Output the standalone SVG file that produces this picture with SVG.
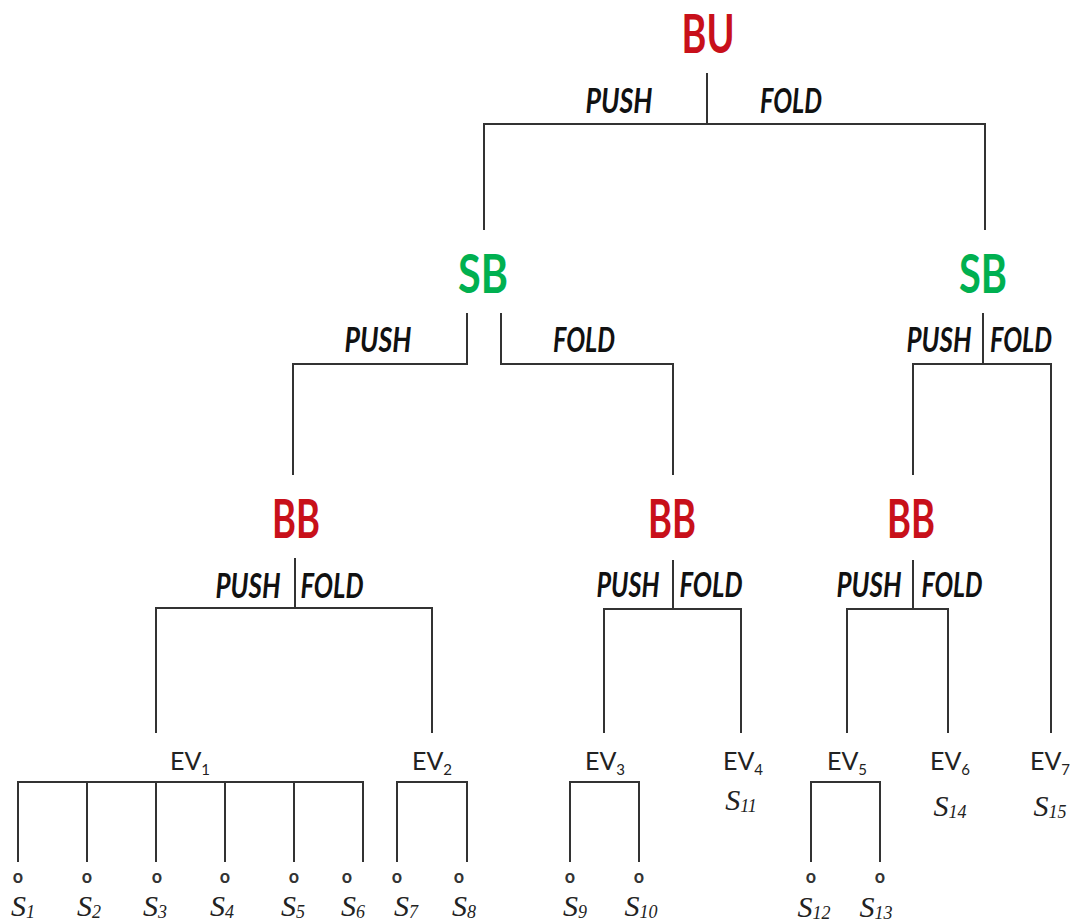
<svg xmlns="http://www.w3.org/2000/svg" width="1074" height="924" viewBox="0 0 1074 924">
<style>
.bg{fill:#fff}
.ln{stroke:#333;stroke-width:2;fill:none}
.bu{font-family:Lato,"Liberation Sans",sans-serif;font-weight:bold;font-size:54px;text-anchor:middle}
.red{fill:#c8101a}
.grn{fill:#00b050}
.act{font-family:Lato,"Liberation Sans",sans-serif;font-weight:bold;font-style:italic;font-size:34px;fill:#111;text-anchor:middle}
.ev{font-family:Lato,"Liberation Sans",sans-serif;font-size:25px;fill:#222;text-anchor:middle}
.sub{font-size:15px}
.s{font-family:"Liberation Serif",serif;font-style:italic;font-size:30px;fill:#222;text-anchor:middle}
.ss{font-size:18px}
.o{font-family:Lato,"Liberation Sans",sans-serif;font-weight:bold;font-size:18px;fill:#333;text-anchor:middle}
</style>
<rect class="bg" x="0" y="0" width="1074" height="924"/>
<g id="connectors">
<path class="ln" d="M707 73V124M484 230V124H985V230"/>
<path class="ln" d="M467 313V364H293V475M501 313V364H673V475"/>
<path class="ln" d="M983 313V364M913 475V364H1051V733"/>
<path class="ln" d="M295 558V608M156 733V608H432V733"/>
<path class="ln" d="M673 560V609M604 733V609H741V733"/>
<path class="ln" d="M913 560V609M847 733V609H948V733"/>
<path class="ln" d="M18 862V782H363V862M87 782V862M156 782V862M225 782V862M294 782V862"/>
<path class="ln" d="M397 862V782H467V862"/>
<path class="ln" d="M570 862V782H639V862"/>
<path class="ln" d="M811 862V782H880V862"/>
</g>
<g id="bu"><text class="bu red" x="708" y="53" textLength="53" lengthAdjust="spacingAndGlyphs">BU</text>
<text class="act" x="619" y="113" textLength="67" lengthAdjust="spacingAndGlyphs">PUSH</text>
<text class="act" x="791" y="113" textLength="62" lengthAdjust="spacingAndGlyphs">FOLD</text></g>
<g id="sb1"><text class="bu grn" x="483" y="293" textLength="50" lengthAdjust="spacingAndGlyphs">SB</text>
<text class="act" x="378" y="352" textLength="67" lengthAdjust="spacingAndGlyphs">PUSH</text>
<text class="act" x="584" y="352" textLength="62" lengthAdjust="spacingAndGlyphs">FOLD</text></g>
<g id="sb2"><text class="bu grn" x="983" y="293" textLength="48" lengthAdjust="spacingAndGlyphs">SB</text>
<text class="act" x="939" y="352" textLength="65" lengthAdjust="spacingAndGlyphs">PUSH</text>
<text class="act" x="1021" y="352" textLength="62" lengthAdjust="spacingAndGlyphs">FOLD</text></g>
<g id="bb1"><text class="bu red" x="296" y="538" textLength="48" lengthAdjust="spacingAndGlyphs">BB</text>
<text class="act" x="248" y="598" textLength="65" lengthAdjust="spacingAndGlyphs">PUSH</text>
<text class="act" x="332" y="598" textLength="63" lengthAdjust="spacingAndGlyphs">FOLD</text></g>
<g id="bb2"><text class="bu red" x="672" y="538" textLength="48" lengthAdjust="spacingAndGlyphs">BB</text>
<text class="act" x="628" y="597" textLength="63" lengthAdjust="spacingAndGlyphs">PUSH</text>
<text class="act" x="711" y="597" textLength="63" lengthAdjust="spacingAndGlyphs">FOLD</text></g>
<g id="bb3"><text class="bu red" x="911" y="538" textLength="48" lengthAdjust="spacingAndGlyphs">BB</text>
<text class="act" x="869" y="597" textLength="65" lengthAdjust="spacingAndGlyphs">PUSH</text>
<text class="act" x="952" y="597" textLength="61" lengthAdjust="spacingAndGlyphs">FOLD</text></g>
<g id="ev1"><text class="ev" x="190" y="770">EV<tspan class="sub" dy="5">1</tspan></text></g>
<g id="ev2"><text class="ev" x="432" y="770">EV<tspan class="sub" dy="5">2</tspan></text></g>
<g id="ev3"><text class="ev" x="605" y="770">EV<tspan class="sub" dy="5">3</tspan></text></g>
<g id="ev4"><text class="ev" x="743" y="770">EV<tspan class="sub" dy="5">4</tspan></text>
<text class="s" x="741" y="810">S<tspan class="ss" dy="2">11</tspan></text></g>
<g id="ev5"><text class="ev" x="847" y="770">EV<tspan class="sub" dy="5">5</tspan></text></g>
<g id="ev6"><text class="ev" x="950" y="770">EV<tspan class="sub" dy="5">6</tspan></text>
<text class="s" x="950" y="816">S<tspan class="ss" dy="2">14</tspan></text></g>
<g id="ev7"><text class="ev" x="1050" y="770">EV<tspan class="sub" dy="5">7</tspan></text>
<text class="s" x="1050" y="816">S<tspan class="ss" dy="2">15</tspan></text></g>
<g id="leaves">
<text class="o" x="18" y="883">o</text>
<text class="o" x="87" y="883">o</text>
<text class="o" x="157" y="883">o</text>
<text class="o" x="225" y="883">o</text>
<text class="o" x="294" y="883">o</text>
<text class="o" x="347" y="883">o</text>
<text class="o" x="397" y="883">o</text>
<text class="o" x="459" y="883">o</text>
<text class="o" x="570" y="883">o</text>
<text class="o" x="639" y="883">o</text>
<text class="o" x="811" y="883">o</text>
<text class="o" x="880" y="883">o</text>
<text class="s" x="23" y="916">S<tspan class="ss" dy="2">1</tspan></text>
<text class="s" x="89" y="916">S<tspan class="ss" dy="2">2</tspan></text>
<text class="s" x="155" y="916">S<tspan class="ss" dy="2">3</tspan></text>
<text class="s" x="222" y="916">S<tspan class="ss" dy="2">4</tspan></text>
<text class="s" x="293" y="916">S<tspan class="ss" dy="2">5</tspan></text>
<text class="s" x="353" y="916">S<tspan class="ss" dy="2">6</tspan></text>
<text class="s" x="406" y="916">S<tspan class="ss" dy="2">7</tspan></text>
<text class="s" x="464" y="916">S<tspan class="ss" dy="2">8</tspan></text>
<text class="s" x="575" y="916">S<tspan class="ss" dy="2">9</tspan></text>
<text class="s" x="641" y="916">S<tspan class="ss" dy="2">10</tspan></text>
<text class="s" x="814" y="917">S<tspan class="ss" dy="2">12</tspan></text>
<text class="s" x="876" y="917">S<tspan class="ss" dy="2">13</tspan></text>
</g>
</svg>
